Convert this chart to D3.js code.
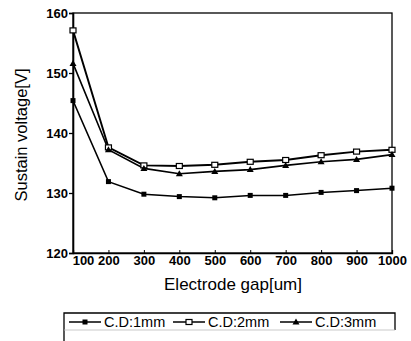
<!DOCTYPE html>
<html>
<head>
<meta charset="utf-8">
<script src="https://cdn.jsdelivr.net/npm/d3@7"></script>
<style>
  body { margin: 0; background: #fff; }
  svg { display: block; font-family: "Liberation Sans", Arial, sans-serif; }
</style>
</head>
<body>
<script>
// electrode gap (um)
const gaps = [100, 200, 300, 400, 500, 600, 700, 800, 900, 1000];
// sustain voltage (V)
const cd1 = [145.4, 131.9, 129.8, 129.4, 129.2, 129.6, 129.6, 130.1, 130.4, 130.8];
const cd2 = [157.1, 137.6, 134.6, 134.5, 134.7, 135.2, 135.5, 136.3, 136.9, 137.2];
const cd3 = [151.6, 137.2, 134.1, 133.2, 133.6, 133.9, 134.6, 135.2, 135.6, 136.4];
const seriesNames = ["C.D:1mm", "C.D:2mm", "C.D:3mm"];
const yTicks = [120, 130, 140, 150, 160];

const W = 411, H = 341;
const svg = d3.select("body").append("svg").attr("width", W).attr("height", H);

const x = d3.scaleLinear().domain([100, 1000]).range([73, 392]);
const y = d3.scaleLinear().domain([120, 160]).range([253, 13]);

// frame
svg.append("rect")
  .attr("x", x(100)).attr("y", y(160))
  .attr("width", x(1000) - x(100)).attr("height", y(120) - y(160))
  .attr("fill", "none").attr("stroke", "#000").attr("stroke-width", 1.3);

// y axis
const yAxis = svg.append("g")
  .attr("transform", "translate(" + x(100) + ",0)")
  .call(d3.axisLeft(y).tickValues(yTicks).tickSize(4).tickPadding(1));
yAxis.select(".domain").attr("stroke-width", 1.6);
yAxis.selectAll(".tick line").attr("stroke-width", 1.3);
yAxis.selectAll("text").attr("font-size", 13).attr("font-weight", "bold").attr("fill", "#000");

// x axis
const xAxis = svg.append("g")
  .attr("transform", "translate(0," + y(120) + ")")
  .call(d3.axisBottom(x).tickValues(gaps).tickSize(-3).tickPadding(3).tickFormat(d3.format("d")));
xAxis.select(".domain").attr("stroke-width", 1.3);
xAxis.selectAll("text").attr("font-size", 13).attr("font-weight", "bold").attr("fill", "#000");
xAxis.selectAll("text").filter(d => d === 100).attr("dx", 10);

// axis titles
svg.append("text")
  .attr("transform", "translate(27,135) rotate(-90)")
  .attr("text-anchor", "middle").attr("font-size", 16.5).text("Sustain voltage[V]");
svg.append("text")
  .attr("x", 233).attr("y", 290)
  .attr("text-anchor", "middle").attr("font-size", 17).text("Electrode gap[um]");

const line = d3.line().x((d, i) => x(gaps[i])).y(d => y(d));
const allSeries = [cd1, cd2, cd3];
const widths = [1.5, 1.9, 1.6];

function marker(g, type, cx, cy) {
  if (type === 0) {
    g.append("rect").attr("x", cx - 2.5).attr("y", cy - 2.5).attr("width", 5).attr("height", 5).attr("fill", "#000");
  } else if (type === 1) {
    g.append("rect").attr("x", cx - 3).attr("y", cy - 2.5).attr("width", 6).attr("height", 5)
      .attr("fill", "#fff").attr("stroke", "#000").attr("stroke-width", 1.2);
  } else {
    g.append("path").attr("d", "M" + cx + "," + (cy - 3.5) + "L" + (cx + 3.5) + "," + (cy + 2.5) + "L" + (cx - 3.5) + "," + (cy + 2.5) + "Z")
      .attr("fill", "#000");
  }
}

allSeries.forEach(function (s, k) {
  svg.append("path").datum(s).attr("d", line)
    .attr("fill", "none").attr("stroke", "#000").attr("stroke-width", widths[k]);
});
allSeries.forEach(function (s, k) {
  const g = svg.append("g");
  s.forEach(function (v, i) { marker(g, k, x(gaps[i]), y(v)); });
});

// legend
const lg = svg.append("g");
lg.append("path").attr("d", "M64,341V313H395V330").attr("fill", "none").attr("stroke", "#000").attr("stroke-width", 1.3);
lg.append("line").attr("x1", 64).attr("x2", 395).attr("y1", 330).attr("y2", 330).attr("stroke", "#bbb").attr("stroke-width", 0.8);
const legX = [69, 173, 280];
seriesNames.forEach(function (name, k) {
  const lx = legX[k];
  lg.append("line").attr("x1", lx).attr("x2", lx + 32).attr("y1", 322).attr("y2", 322).attr("stroke", "#000").attr("stroke-width", 1.5);
  marker(lg, k, lx + 16, 322);
  lg.append("text").attr("x", lx + 35).attr("y", 327).attr("font-size", 14.5).text(name);
});
</script>
</body>
</html>
